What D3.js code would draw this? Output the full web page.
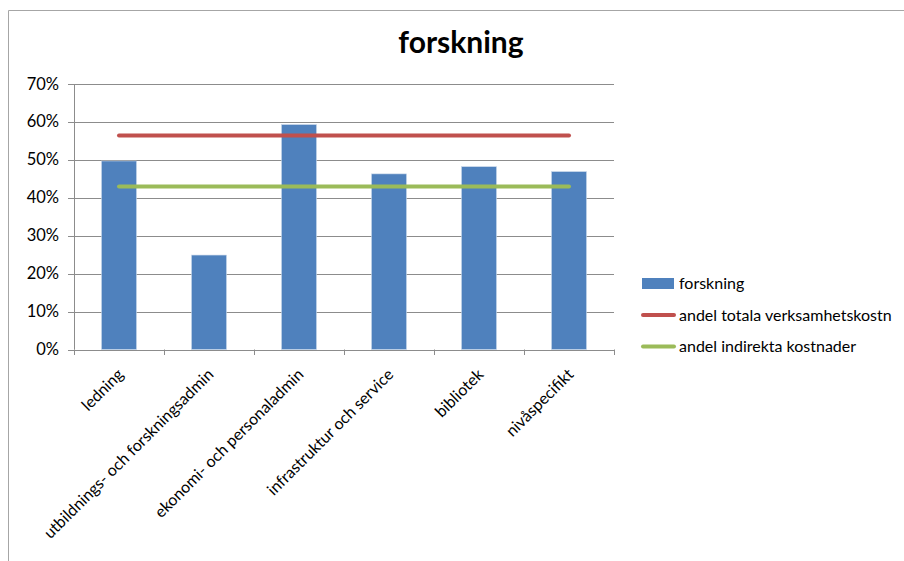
<!DOCTYPE html>
<html>
<head>
<meta charset="utf-8">
<script src="https://cdn.jsdelivr.net/npm/d3@7"></script>
<style>
    body { margin: 0; background: #fff; }
    text { font-family: Lato, "Open Sans", sans-serif; fill: #000; }
</style>
</head>
<body>
<svg id="chart" width="904" height="561"></svg>
<script>
// data
var categories = ["ledning", "utbildnings- och forskningsadmin", "ekonomi- och personaladmin",
    "infrastruktur och service", "bibliotek", "nivåspecifikt"];
var forskning = [0.497, 0.249, 0.593, 0.463, 0.482, 0.469];
var andelTotala = [0.564, 0.564, 0.564, 0.564, 0.564, 0.564];
var andelIndirekta = [0.430, 0.430, 0.430, 0.430, 0.430, 0.430];
var yTicks = [0, 0.1, 0.2, 0.3, 0.4, 0.5, 0.6, 0.7];
var legendItems = [
    { name: "forskning", type: "bar", color: "#4F81BD" },
    { name: "andel totala  verksamhetskostn", type: "line", color: "#C0504D" },
    { name: "andel indirekta kostnader", type: "line", color: "#9BBB59" }
];

var svg = d3.select("#chart");
var grid = "#8c8c8c";

// outer frame (right and bottom run off the picture)
svg.append("path")
    .attr("d", "M8.5,600 V10.5 H1000")
    .attr("fill", "none")
    .attr("stroke", "#a6a6a6");

// title
svg.append("text")
    .attr("x", 461).attr("y", 53)
    .attr("text-anchor", "middle")
    .style("font-size", "30px")
    .style("font-weight", "bold")
    .text("forskning");

var x = d3.scaleBand().domain(categories).range([74, 614]).padding(0);
var y = d3.scaleLinear().domain([0, 0.7]).range([349.5, 84]);

// gridlines
svg.append("g").selectAll("line")
    .data(yTicks)
    .enter()
    .append("line")
    .attr("x1", 68).attr("x2", 614)
    .attr("y1", function (d) { return Math.round(y(d)) + 0.5; })
    .attr("y2", function (d) { return Math.round(y(d)) + 0.5; })
    .attr("stroke", grid);

// y labels
svg.append("g").selectAll("text")
    .data(yTicks)
    .enter()
    .append("text")
    .attr("x", 59)
    .attr("y", function (d) { return y(d) + 5.5; })
    .attr("text-anchor", "end")
    .style("font-size", "16.5px")
    .text(d3.format(".0%"));

// y axis
svg.append("line")
    .attr("x1", 74.5).attr("x2", 74.5)
    .attr("y1", y(0.7)).attr("y2", y(0))
    .attr("stroke", grid);

// x axis ticks
var edges = categories.map(function (c) { return x(c); }).concat([614]);
svg.append("g").selectAll("line")
    .data(edges)
    .enter()
    .append("line")
    .attr("x1", function (d) { return Math.round(d) + 0.5; })
    .attr("x2", function (d) { return Math.round(d) + 0.5; })
    .attr("y1", 349.5).attr("y2", 355)
    .attr("stroke", grid);

// bars
var bw = 35;
svg.append("g").selectAll("rect")
    .data(forskning)
    .enter()
    .append("rect")
    .attr("x", function (d, i) { return x(categories[i]) + x.bandwidth() / 2 - bw / 2; })
    .attr("y", function (d) { return y(d); })
    .attr("width", bw)
    .attr("height", function (d) { return y(0) - y(d); })
    .attr("fill", "#4F81BD")
    .attr("stroke", "#c9d7ea")
    .attr("stroke-width", 0.6);

// lines
var line = d3.line()
    .x(function (d, i) { return x(categories[i]) + x.bandwidth() / 2; })
    .y(function (d) { return y(d); });

[[andelTotala, "#C0504D"], [andelIndirekta, "#9BBB59"]].forEach(function (s) {
    svg.append("path")
        .attr("d", line(s[0]))
        .attr("fill", "none")
        .attr("stroke", s[1])
        .attr("stroke-width", 4)
        .attr("stroke-linecap", "round");
});

// x labels
svg.append("g").selectAll("text")
    .data(categories)
    .enter()
    .append("text")
    .attr("transform", function (d) {
        return "translate(" + (x(d) + x.bandwidth() / 2 - 3) + ",367) rotate(-45)";
    })
    .attr("dy", "0.75em")
    .attr("text-anchor", "end")
    .style("font-size", "16px")
    .text(function (d) { return d; });

// legend
var lg = svg.append("g").selectAll("g")
    .data(legendItems)
    .enter()
    .append("g")
    .attr("transform", function (d, i) { return "translate(642," + (283.5 + i * 31.5) + ")"; });

lg.filter(function (d) { return d.type == "bar"; })
    .append("rect")
    .attr("x", 0).attr("y", -5.5)
    .attr("width", 32).attr("height", 11)
    .attr("fill", function (d) { return d.color; });

lg.filter(function (d) { return d.type == "line"; })
    .append("line")
    .attr("x1", 1).attr("x2", 32)
    .attr("y1", 0).attr("y2", 0)
    .attr("stroke", function (d) { return d.color; })
    .attr("stroke-width", 4)
    .attr("stroke-linecap", "round");

lg.append("text")
    .attr("x", 37).attr("y", 5.5)
    .style("font-size", "16px")
    .text(function (d) { return d.name; });
</script>
</body>
</html>
